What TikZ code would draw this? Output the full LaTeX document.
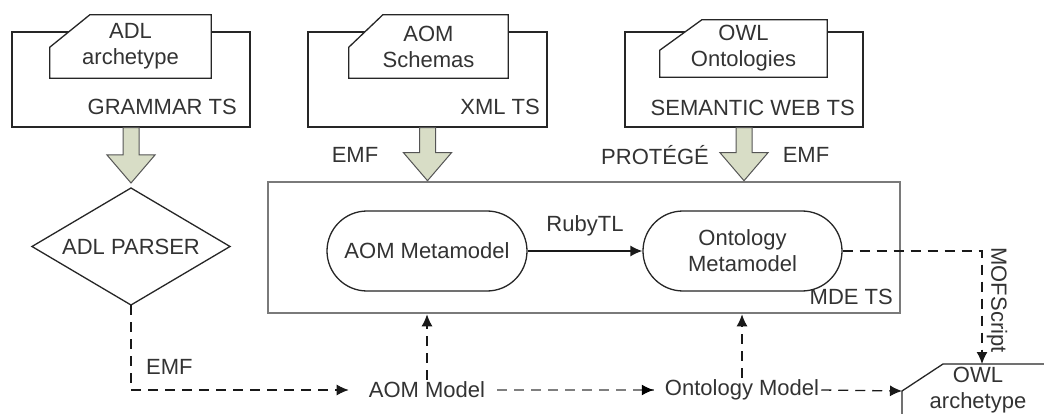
\documentclass[tikz,border=0pt]{standalone}
\usepackage{fontspec}
\setmainfont{Liberation Sans}
\usetikzlibrary{arrows.meta,shapes.geometric,calc}
\definecolor{txt}{HTML}{333333}
\definecolor{blk}{HTML}{D8DDC6}
\definecolor{blkline}{HTML}{555555}
\definecolor{mdeline}{HTML}{7A7A7A}
\definecolor{dgray}{HTML}{7F7F7F}
\newcommand\doctag[3]{\filldraw[docline] (#1.south west) -- ++(0,-#3) -- ($(#1.north west)+(#2,0)$) -- (#1.north east) -- (#1.south east) -- cycle;}
\newcommand\blockarrow[2]{\filldraw[blockarr] let \p1=#1, \p2=#2 in
  (\x1-8pt,\y1) -- (\x1-8pt,\y2+28pt) -- (\x1-24pt,\y2+28pt) -- (\x1,\y2) --
  (\x1+24pt,\y2+28pt) -- (\x1+8pt,\y2+28pt) -- (\x1+8pt,\y1) -- cycle;}
\begin{document}
\begin{tikzpicture}[x=1pt,y=-1pt,
  font=\fontsize{22}{26}\selectfont, text=txt,
  tsbox/.style={draw=black!85, line width=1.3pt, fill=white, inner sep=0pt},
  docnode/.style={inner sep=0pt, align=center},
  docline/.style={draw=black!85, line width=1.3pt, fill=white},
  blockarr/.style={fill=blk, draw=blkline, line width=1pt},
  lbl/.style={inner sep=0pt, text=txt},
  pill/.style={draw=black!85, line width=1.3pt, rounded corners=40pt, inner sep=0pt, align=center, fill=white},
  mdebox/.style={draw=mdeline, line width=2.6pt, inner sep=0pt},
  arr/.style={-{Latex[length=12pt,width=11pt]}},
  dashline/.style={draw=black!90, line width=1.3pt, dash pattern=on 10pt off 7pt},
  dashgray/.style={draw=dgray, line width=2.6pt, dash pattern=on 10pt off 7pt},
  model/.style={inner sep=2pt, text=txt}]
\useasboundingbox (0,0) rectangle (1044,414);
\fill[white] (0,0) rectangle (1044,414);

% technical-space boxes
\node[tsbox, minimum width=238, minimum height=95] (g1) at (131,79.5) {};
\node[tsbox, minimum width=239, minimum height=95] (g2) at (427.5,79.5) {};
\node[tsbox, minimum width=238, minimum height=95] (g3) at (744,79.5) {};

\node[docnode, minimum width=161, minimum height=63] (d1) at (130.5,46.5) {};
\doctag{d1}{40}{31}
\node[docnode] at (d1) {ADL\\archetype};
\node[docnode, minimum width=159, minimum height=63] (d2) at (428.5,46.5) {};
\doctag{d2}{34}{31}
\node[docnode] at (d2) {AOM\\Schemas};
\node[docnode, minimum width=167, minimum height=57] (d3) at (743.5,48.5) {};
\doctag{d3}{42}{27}
\node[docnode] at (d3) {OWL\\Ontologies};

\node[lbl, anchor=east] (l1) at (237,107) {GRAMMAR TS};
\node[lbl, anchor=east] (l2) at (540,107) {XML TS};
\node[lbl, anchor=east] (l3) at (855,108) {SEMANTIC WEB TS};

% MDE box
\node[mdebox, minimum width=632, minimum height=131] (mde) at (584,247.5) {};
\node[lbl, anchor=east] (lmde) at (893,297) {MDE TS};
\node[pill, minimum width=200, minimum height=80] (aommeta) at (427,251) {AOM Metamodel};
\node[pill, minimum width=199, minimum height=80] (ontometa) at (742.5,251) {Ontology\\Metamodel};
\draw[line width=1.3pt, draw=black!90, arr] (aommeta.east) -- (ontometa.west)
  node[midway, lbl, above=14pt] {RubyTL};

% parser
\node[draw=black!85, line width=1.3pt, shape=diamond, inner sep=0pt, outer sep=0pt,
  aspect=1.7, minimum width=198, minimum height=117] (parser) at (131,246.5) {ADL PARSER};

% block arrows
\blockarrow{(g1.south)}{($(parser.north)+(0,-5)$)}
\blockarrow{(g2.south)}{(g2.south |- mde.north)}
\blockarrow{(g3.south)}{(g3.south |- mde.north)}
\node[lbl] (emf1) at (355,155) {EMF};
\node[lbl] (prot) at (655,155) {PROTÉGÉ};
\node[lbl] (emf2) at (806,155) {EMF};

% models
\node[model] (aom) at (427,390) {AOM Model};
\node[model] (onto) at (742,390) {Ontology Model};
\coordinate (owlcorner) at (902,391);
\coordinate (owltop) at (982,364);
\draw[docline] (902,420) -- (owlcorner) -- (943,364) -- (1050,364);
\node[docnode] (owl) at (978,390.5) {OWL\\archetype};

\draw[dashline, arr, shorten >=18pt] (parser.south) |- (aom.west);
\node[lbl, anchor=west] (emf3) at (146,367) {EMF};
\draw[dashgray, shorten <=10pt, shorten >=9pt] (aom.east) -- (onto.west);
\draw[arr, draw=black, line width=1.3pt] ($(onto.west)+(-14,0)$) -- ($(onto.west)+(-9,0)$);
\draw[dashline, arr] (aom.north) -- (aom.north |- mde.south);
\draw[dashline, arr] (onto.north) -- (onto.north |- mde.south);
\draw[dashline, arr] (onto.east) -- (owlcorner);
\draw[dashline, arr] (ontometa.east) -| (owltop);
\node[lbl, rotate=-90] (mof) at (997,300) {MOFScript};
\end{tikzpicture}
\end{document}
